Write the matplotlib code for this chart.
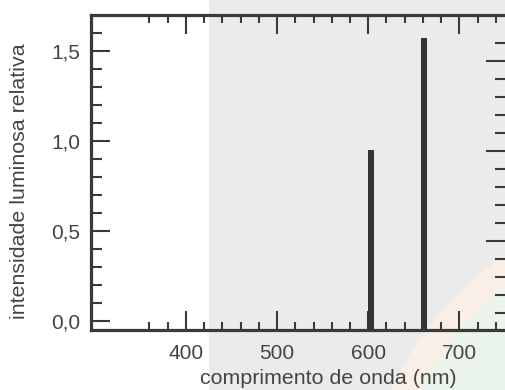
import matplotlib
matplotlib.use("Agg")
import matplotlib.pyplot as plt
from matplotlib.patches import Rectangle, Circle
from matplotlib.transforms import IdentityTransform
from matplotlib.ticker import FixedLocator

# ---- data ----
wavelengths = [603, 661]          # nm
intensities = [0.95, 1.57]        # relative luminous intensity
x_major = [400, 500, 600, 700]
x_labels = ["400", "500", "600", "700"]
x_minor = [360, 380, 420, 440, 460, 480, 520, 540, 560, 580,
           620, 640, 660, 680, 720, 740]
y_major = [0.0, 0.5, 1.0, 1.5]
y_labels = ["0,0", "0,5", "1,0", "1,5"]
y_minor = [0.1, 0.2, 0.3, 0.4, 0.6, 0.7, 0.8, 0.9, 1.1, 1.2, 1.3, 1.4, 1.6]
r_major = [0.5, 1.0, 1.5]
r_minor = [0.1, 0.2, 0.3, 0.4, 0.6, 0.7, 0.8, 0.9, 1.1, 1.2, 1.3, 1.4, 1.6]
xlabel = "comprimento de onda (nm)"
ylabel = "intensidade luminosa relativa"

plt.rcParams['font.family'] = ['Liberation Sans', 'DejaVu Sans']

W, H = 505, 390
fig = plt.figure(figsize=(W / 100, H / 100), dpi=100)
fig.patch.set_facecolor("white")

# background decorations (pixel coordinates)
ident = IdentityTransform()
fig.patches.append(Rectangle((209, 0), W - 209, H, transform=ident,
                             facecolor="#ebebeb", edgecolor="none", zorder=-3))
fig.patches.append(Circle((680, H - 520), 317, transform=ident,
                          facecolor="#f9efe6", edgecolor="none", zorder=-2))
fig.patches.append(Circle((680, H - 520), 290, transform=ident,
                          facecolor="#ebf4ec", edgecolor="none", zorder=-1))

ink = "#3a3a3a"
txt = "#444444"

ax = fig.add_axes([91 / W, 60 / H, 414 / W, 315 / H])
ax.set_zorder(1)
ax.patch.set_alpha(0)
ax.set_xlim(296, 750)
ax.set_ylim(-0.05, 1.70)

ax.bar(wavelengths, [v + 0.05 for v in intensities], bottom=-0.05,
       width=6, color="#333333", zorder=3)

for s in ["left", "bottom", "top"]:
    ax.spines[s].set_color(ink)
    ax.spines[s].set_linewidth(2.3)
ax.spines["right"].set_visible(False)

ax.xaxis.set_major_locator(FixedLocator(x_major))
ax.xaxis.set_minor_locator(FixedLocator(x_minor))
ax.set_xticklabels(x_labels)
ax.yaxis.set_major_locator(FixedLocator(y_major))
ax.yaxis.set_minor_locator(FixedLocator(y_minor))
ax.set_yticklabels(y_labels)

ax.tick_params(axis="x", which="both", direction="in", top=True, bottom=True,
               color=ink, width=1.5)
ax.tick_params(axis="x", which="major", length=13.5, pad=10,
               labelsize=15, labelcolor=txt)
ax.tick_params(axis="x", which="minor", length=6)
ax.tick_params(axis="y", which="both", direction="in", left=True, right=False,
               color=ink, width=1.5)
ax.tick_params(axis="y", which="major", length=13.5, pad=8,
               labelsize=15, labelcolor=txt)
ax.tick_params(axis="y", which="minor", length=8)

# right-side ticks (slightly offset in the original)
ax2 = ax.twinx()
ax2.set_zorder(2)
ax2.patch.set_alpha(0)
ax2.set_ylim(-0.05 + 0.0556, 1.70 + 0.0556)
for s in ax2.spines.values():
    s.set_visible(False)
ax2.yaxis.set_major_locator(FixedLocator(r_major))
ax2.yaxis.set_minor_locator(FixedLocator(r_minor))
ax2.tick_params(axis="y", which="both", direction="in", right=True, left=False,
                labelright=False, color=ink, width=1.5)
ax2.tick_params(axis="y", which="major", length=13.5)
ax2.tick_params(axis="y", which="minor", length=7)

fig.text(328.5 / W, 1 - 378 / H, xlabel, ha="center", va="center",
         fontsize=15.4, color=txt)
fig.text(20 / W, 1 - 181 / H, ylabel, ha="center", va="center",
         rotation=90, fontsize=15.4, color=txt)

fig.savefig("out.png", dpi=100)
